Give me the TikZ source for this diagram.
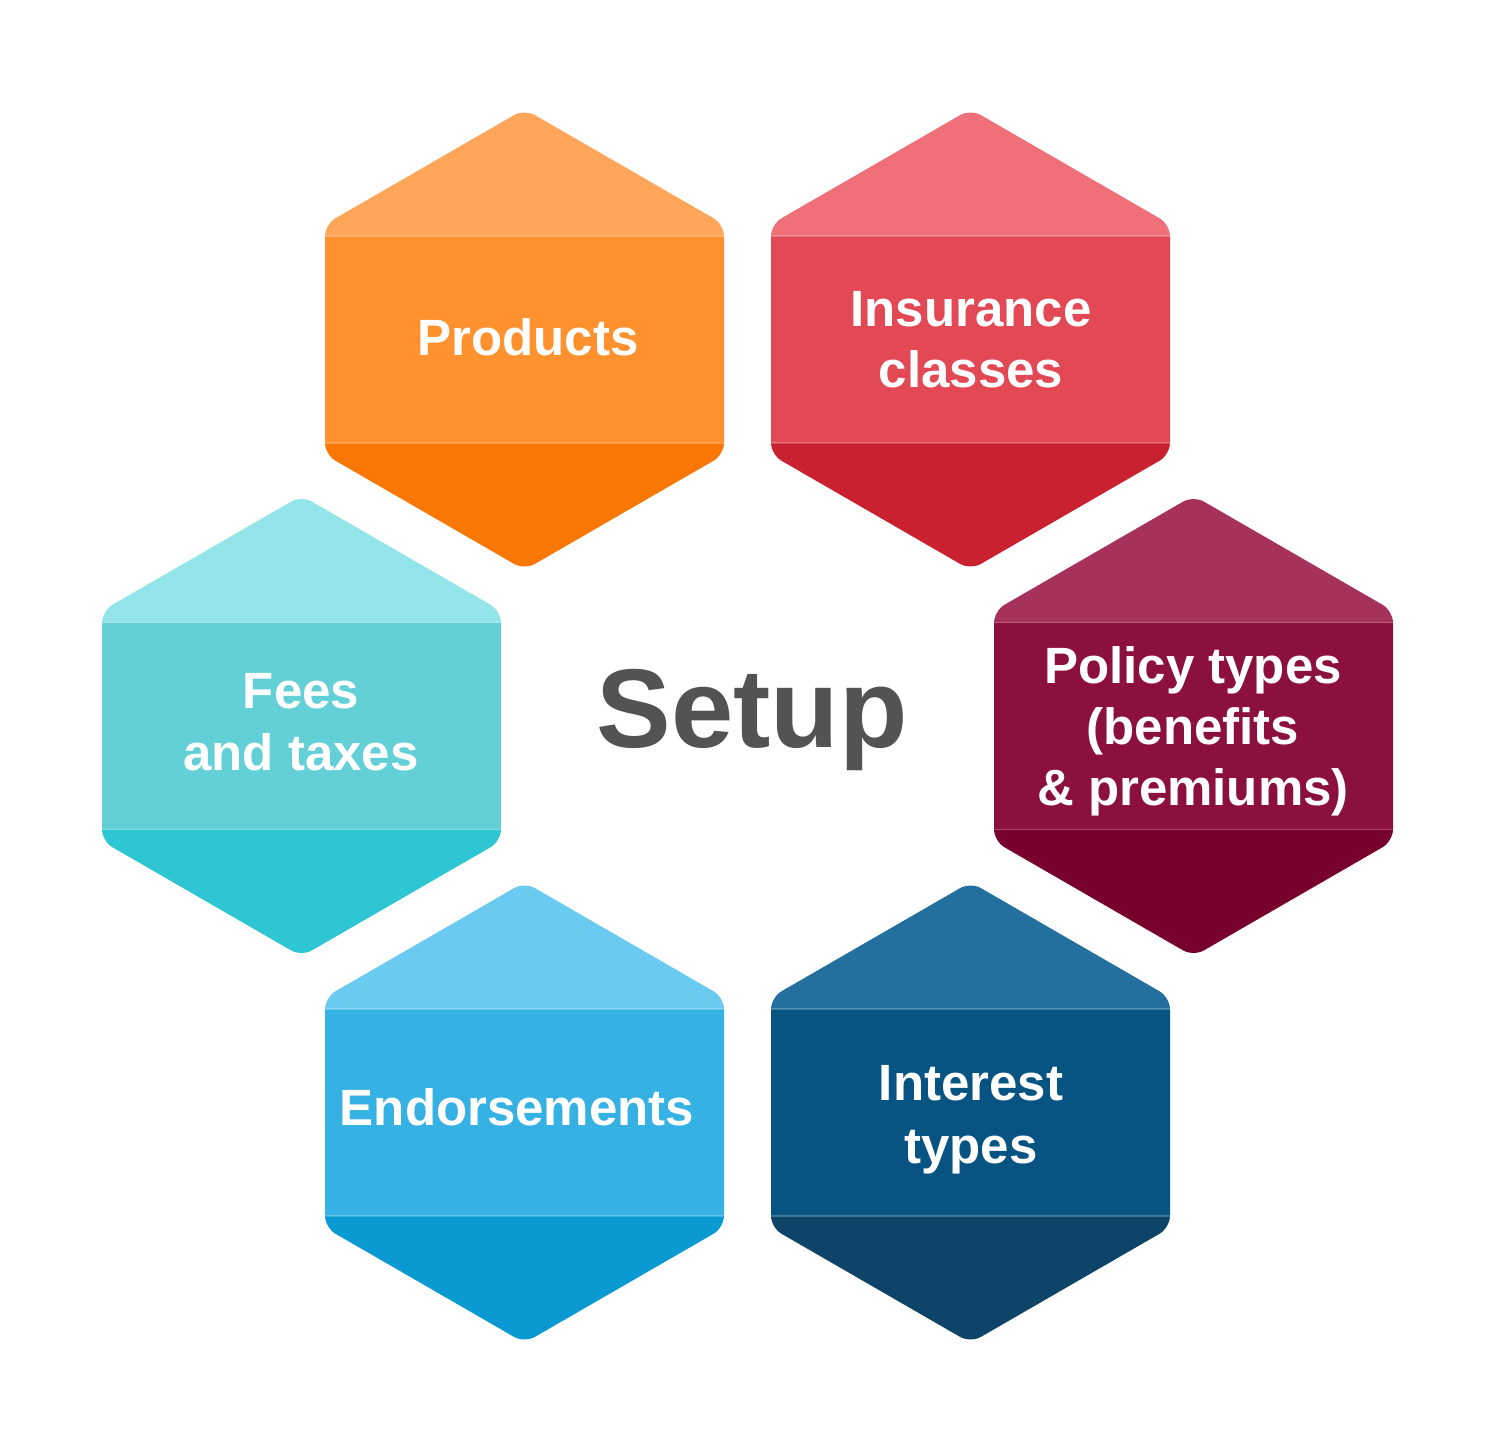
\documentclass[tikz,border=0pt]{standalone}
\usepackage{fontspec}
\setmainfont{Liberation Sans}
\definecolor{prodT}{HTML}{FFA65A}\definecolor{prodM}{HTML}{FF922F}\definecolor{prodB}{HTML}{F97805}
\definecolor{insT}{HTML}{F07079}\definecolor{insM}{HTML}{E34855}\definecolor{insB}{HTML}{CA2130}
\definecolor{polT}{HTML}{A6315A}\definecolor{polM}{HTML}{8C103E}\definecolor{polB}{HTML}{78002D}
\definecolor{intT}{HTML}{23709F}\definecolor{intM}{HTML}{075382}\definecolor{intB}{HTML}{0D4468}
\definecolor{endT}{HTML}{6BCAF0}\definecolor{endM}{HTML}{36B1E3}\definecolor{endB}{HTML}{0A99D0}
\definecolor{feeT}{HTML}{93E5EA}\definecolor{feeM}{HTML}{63D0D8}\definecolor{feeB}{HTML}{2DC6D2}
\definecolor{setupgray}{HTML}{535353}
\newcommand\hexcell[4]{%
  \begin{scope}[shift={#1}]
    \begin{scope}
      \clip[rounded corners=12pt] (-199.5,0) -- (-199.5,-115.2) -- (0,-230.4) -- (199.5,-115.2)
        -- (199.5,115.2) -- (0,230.4) -- (-199.5,115.2) -- cycle;
      \fill[#2] (-210,-240) rectangle (210,-103.5);
      \fill[#3] (-210,-103.5) rectangle (210,103.5);
      \fill[#4] (-210,103.5) rectangle (210,240);
      \draw[bandline] (-210,-103.5) -- (210,-103.5) (-210,103.5) -- (210,103.5);
    \end{scope}
  \end{scope}}
\begin{document}
\begin{tikzpicture}[x=1pt,y=-1pt,
  bandline/.style={white,opacity=0.22,line width=1.3pt},
  label/.style={text=white,align=center,inner sep=0pt,font=\bfseries\fontsize{51}{#1}\selectfont},
  label/.default=60]
\useasboundingbox (0,0) rectangle (1496,1452);
\fill[white] (0,0) rectangle (1496,1452);

\hexcell{(524.5,339.5)}{prodT}{prodM}{prodB}
\hexcell{(970.5,339.5)}{insT}{insM}{insB}
\hexcell{(1193.5,726)}{polT}{polM}{polB}
\hexcell{(970.5,1112.5)}{intT}{intM}{intB}
\hexcell{(524.5,1112.5)}{endT}{endM}{endB}
\hexcell{(301.5,726)}{feeT}{feeM}{feeB}

\node[label] (products) at (528,337) {Products};
\node[label=61] (insurance) at (971,340) {Insurance\\classes};
\node[label=61] (policy) at (1193,731) {Policy types\\(benefits\\\& premiums)};
\node[label=63] (interest) at (971,1120) {Interest\\types};
\node[label] (endorse) at (517,1107) {Endorsements};
\node[label=62] (fees) at (301,722) {Fees\\and taxes};

\node[text=setupgray,inner sep=0pt,font=\bfseries\fontsize{112}{130}\selectfont] (setup) at (752,720) {Setup};
\end{tikzpicture}
\end{document}
